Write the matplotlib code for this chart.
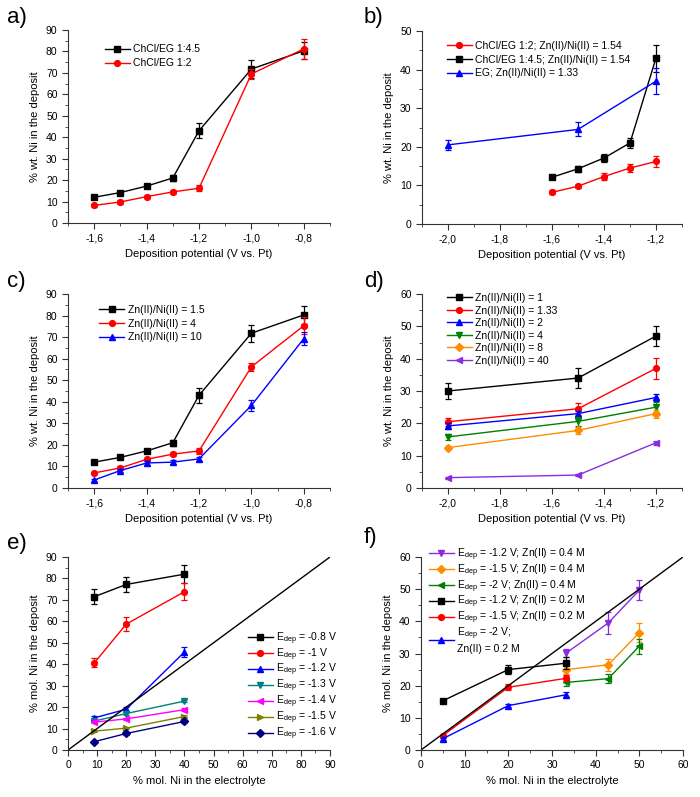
import matplotlib
matplotlib.use('Agg')
import matplotlib.pyplot as plt
from matplotlib.ticker import MultipleLocator, FuncFormatter

plt.rcParams['font.family'] = ['Liberation Sans', 'DejaVu Sans']
plt.rcParams['mathtext.fontset'] = 'custom'
plt.rcParams['mathtext.rm'] = 'Liberation Sans'
plt.rcParams['mathtext.it'] = 'Liberation Sans'
plt.rcParams['axes.unicode_minus'] = False

# ---- data ----
# a) / c) potentials
pot_a = [-1.6, -1.5, -1.4, -1.3, -1.2, -1.0, -0.8]
a_45 = [12, 14.2, 17.2, 21, 43, 71.8, 80.3]
a_45_err = [0.8, 0.8, 0.8, 1.5, 3.5, 4, 4]
a_12 = [8.2, 9.8, 12.3, 14.5, 16.2, 69.5, 81.2]
a_12_err = [0.8, 0.8, 0.8, 1, 1.5, 2.5, 4.5]

# b)
pot_b = [-1.6, -1.5, -1.4, -1.3, -1.2]
b_12 = [8.2, 9.8, 12.3, 14.5, 16.2]
b_12_err = [0.5, 0.5, 0.8, 1.1, 1.5]
b_45 = [12.1, 14.3, 17.1, 21, 43]
b_45_err = [0.5, 0.7, 1, 1.3, 3.5]
pot_eg = [-2.0, -1.5, -1.2]
b_eg = [20.5, 24.5, 37]
b_eg_err = [1.3, 1.8, 3.3]

# c)
c_15 = [12, 14.2, 17.2, 21, 43, 71.8, 80.3]
c_15_err = [0.8, 0.8, 0.8, 1.3, 3.5, 4, 4.3]
c_4 = [7, 9.3, 13.3, 15.7, 17.2, 56.2, 75.3]
c_4_err = [0.5, 0.8, 0.8, 0.8, 1.3, 2, 4]
c_10 = [3.7, 8.1, 11.6, 12, 13.5, 38.3, 69.3]
c_10_err = [0.5, 0.8, 1, 1, 1, 2.5, 3]

# d)
pot_d = [-2.0, -1.5, -1.2]
d_labels = ['Zn(II)/Ni(II) = 1', 'Zn(II)/Ni(II) = 1.33', 'Zn(II)/Ni(II) = 2',
            'Zn(II)/Ni(II) = 4', 'Zn(II)/Ni(II) = 8', 'Zn(II)/Ni(II) = 40']
d_vals = [[30, 34, 47], [20.5, 24.5, 37], [19.2, 23, 28],
          [15.8, 20.6, 25], [12.5, 17.8, 23], [3.2, 4, 14]]
d_errs = [[2.5, 3.2, 3.2], [1.3, 1.8, 3.3], [0.8, 0.8, 1.2],
          [0.8, 1.3, 1.5], [0.5, 1, 1.2], [0.3, 0.4, 0.6]]

# e)
ni_e = [9.1, 20, 40]
e_labels = ['-0.8 V', '-1 V', '-1.2 V', '-1.3 V', '-1.4 V', '-1.5 V', '-1.6 V']
e_vals = [[71.5, 77.2, 82], [40.7, 58.7, 73.8], [15, 19, 45.7],
          [13.5, 17, 22.8], [13, 14.5, 18.8], [8.8, 10.2, 15.6], [3.9, 7.7, 13.3]]
e_errs = [[3.5, 3.3, 4.3], [2.2, 3.3, 4], [1, 1, 2.5],
          [0.6, 0.6, 0.6], [0.6, 0.6, 0.6], [0.5, 0.5, 0.5], [0.5, 0.5, 0.5]]

# f)
ni_f_hi = [33.3, 42.9, 50]
ni_f_lo = [5, 20, 33.3]
f_labels = ['-1.2 V; Zn(II) = 0.4 M', '-1.5 V; Zn(II) = 0.4 M', '-2 V; Zn(II) = 0.4 M',
            '-1.2 V; Zn(II) = 0.2 M', '-1.5 V; Zn(II) = 0.2 M', '-2 V;\nZn(II) = 0.2 M']
f_vals = [[30.2, 39.5, 49.7], [25, 26.5, 36.5], [21, 22.2, 32.3],
          [15.3, 25, 27], [4.5, 19.5, 22.3], [3.5, 13.8, 17.2]]
f_errs = [[1.2, 3.3, 3.2], [1.5, 1.8, 3], [1, 1.3, 2.3],
          [0.3, 1.3, 1.8], [0.3, 1, 1], [0.3, 0.5, 0.8]]

W, H = 700, 797
fig = plt.figure(figsize=(7, 7.97), dpi=100)


def make_ax(left, top, right, bottom):
    ax = fig.add_axes([left / W, 1 - bottom / H, (right - left) / W, (bottom - top) / H])
    for s in ['top', 'right']:
        ax.spines[s].set_visible(False)
    for s in ['left', 'bottom']:
        ax.spines[s].set_color('#333333')
    ax.tick_params(which='both', direction='out', labelsize=7.5, top=False, right=False,
                   color='#333333')
    ax.tick_params(which='major', length=4)
    ax.tick_params(which='minor', length=2)
    return ax


def comma(v, pos):
    return ('%.1f' % v).replace('.', ',')


def series(ax, x, y, err, color, marker, label, ms=4.2):
    ax.errorbar(x, y, yerr=err, fmt='none', ecolor=color,
                capsize=2.5, elinewidth=0.9, capthick=0.9)
    ax.plot(x, y, color=color, marker=marker, ms=ms, lw=1, label=label)


def leg(ax, x, y, sp=0.37):
    ax.legend(loc='upper left', bbox_to_anchor=(x, y), frameon=False, fontsize=7.5,
              handlelength=2.4, labelspacing=sp, borderpad=0, borderaxespad=0,
              handletextpad=0.3)


def potential_axes(ax, ymax):
    ax.set_ylim(0, ymax)
    ax.xaxis.set_major_locator(MultipleLocator(0.2))
    ax.xaxis.set_minor_locator(MultipleLocator(0.1))
    ax.yaxis.set_major_locator(MultipleLocator(10))
    ax.yaxis.set_minor_locator(MultipleLocator(5))
    ax.xaxis.set_major_formatter(FuncFormatter(comma))
    ax.set_xlabel('Deposition potential (V vs. Pt)', fontsize=8)
    ax.set_ylabel('% wt. Ni in the deposit', fontsize=8)


def mol_axes(ax, lim):
    ax.plot([0, lim], [0, lim], color='black', lw=1)
    ax.set_xlim(0, lim)
    ax.set_ylim(0, lim)
    ax.xaxis.set_major_locator(MultipleLocator(10))
    ax.xaxis.set_minor_locator(MultipleLocator(5))
    ax.yaxis.set_major_locator(MultipleLocator(10))
    ax.yaxis.set_minor_locator(MultipleLocator(5))
    ax.set_xlabel('% mol. Ni in the electrolyte', fontsize=8)
    ax.set_ylabel('% mol. Ni in the deposit', fontsize=8)


# a)
ax = make_ax(68, 30, 330, 223)
series(ax, pot_a, a_45, a_45_err, 'black', 's', 'ChCl/EG 1:4.5')
series(ax, pot_a, a_12, a_12_err, 'red', 'o', 'ChCl/EG 1:2')
ax.set_xlim(-1.7, -0.7)
potential_axes(ax, 90)
leg(ax, 0.14, 0.925)

# b)
ax = make_ax(422, 31, 682, 224)
series(ax, pot_b, b_12, b_12_err, 'red', 'o', 'ChCl/EG 1:2; Zn(II)/Ni(II) = 1.54')
series(ax, pot_b, b_45, b_45_err, 'black', 's', 'ChCl/EG 1:4.5; Zn(II)/Ni(II) = 1.54')
series(ax, pot_eg, b_eg, b_eg_err, 'blue', '^', 'EG; Zn(II)/Ni(II) = 1.33')
ax.set_xlim(-2.1, -1.1)
potential_axes(ax, 50)
leg(ax, 0.096, 0.95)

# c)
ax = make_ax(68, 294, 330, 488)
series(ax, pot_a, c_15, c_15_err, 'black', 's', 'Zn(II)/Ni(II) = 1.5')
series(ax, pot_a, c_4, c_4_err, 'red', 'o', 'Zn(II)/Ni(II) = 4')
series(ax, pot_a, c_10, c_10_err, 'blue', '^', 'Zn(II)/Ni(II) = 10')
ax.set_xlim(-1.7, -0.7)
potential_axes(ax, 90)
leg(ax, 0.12, 0.945)

# d)
ax = make_ax(422, 294, 682, 488)
d_colors = ['black', 'red', 'blue', 'green', 'darkorange', 'blueviolet']
d_markers = ['s', 'o', '^', 'v', 'D', '<']
for v, e, c, m, l in zip(d_vals, d_errs, d_colors, d_markers, d_labels):
    series(ax, pot_d, v, e, c, m, l, ms=3.8 if m == 'D' else 4.2)
ax.set_xlim(-2.1, -1.1)
potential_axes(ax, 60)
leg(ax, 0.096, 1.005, sp=0.24)

# e)
ax = make_ax(68, 557, 330, 750)
e_colors = ['black', 'red', 'blue', 'teal', 'magenta', 'olive', 'navy']
e_markers = ['s', 'o', '^', 'v', '<', '>', 'D']
for v, e, c, m, l in zip(e_vals, e_errs, e_colors, e_markers, e_labels):
    series(ax, ni_e, v, e, c, m, r'E$_{\rm dep}$ = ' + l, ms=3.8 if m == 'D' else 4.2)
mol_axes(ax, 90)
leg(ax, 0.687, 0.62, sp=-0.05)

# f)
ax = make_ax(421, 557, 683, 750)
f_colors = ['blueviolet', 'darkorange', 'green', 'black', 'red', 'blue']
f_markers = ['v', 'D', '<', 's', 'o', '^']
f_x = [ni_f_hi, ni_f_hi, ni_f_hi, ni_f_lo, ni_f_lo, ni_f_lo]
for x, v, e, c, m, l in zip(f_x, f_vals, f_errs, f_colors, f_markers, f_labels):
    series(ax, x, v, e, c, m, r'E$_{\rm dep}$ = ' + l, ms=3.8 if m == 'D' else 4.2)
mol_axes(ax, 60)
leg(ax, 0.03, 1.055, sp=-0.05)

# panel letters
for lab, x, y in [('a)', 7, 17), ('b)', 364, 17), ('c)', 7, 281),
                  ('d)', 364, 281), ('e)', 7, 544), ('f)', 364, 538)]:
    fig.text(x / W, 1 - y / H, lab, fontsize=16, va='center', ha='left')

fig.savefig('out.png', dpi=100)
